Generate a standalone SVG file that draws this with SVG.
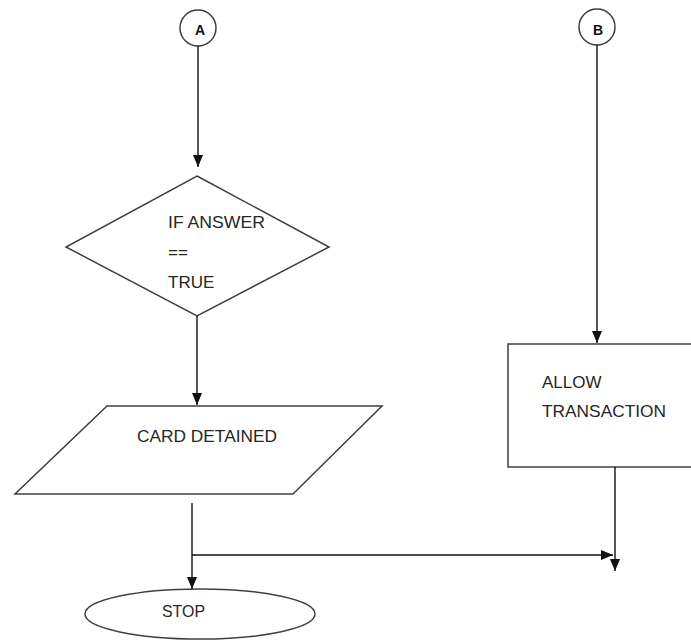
<svg xmlns="http://www.w3.org/2000/svg" width="691" height="641" viewBox="0 0 691 641">
  <style>
    .shape { fill: #ffffff; stroke: #3f3f3f; stroke-width: 1.5; }
    .conn { fill: none; stroke: #111111; stroke-width: 1.4; }
    .label { font-family: "Liberation Sans", Arial, sans-serif; font-size: 17px; fill: #262626; }
    .ref { font-family: "Liberation Sans", Arial, sans-serif; font-size: 14px; font-weight: bold; fill: #111111; text-anchor: middle; }
  </style>
  <defs>
    <marker id="arrow" markerUnits="userSpaceOnUse" markerWidth="12" markerHeight="12" viewBox="0 0 12 10" refX="12" refY="5" orient="auto">
      <path d="M0,0 L12,5 L0,10 Z" fill="#111111"/>
    </marker>
  </defs>
  <rect width="691" height="641" fill="#ffffff"/>

  <!-- off-page connector A -->
  <g id="connector-a">
    <circle class="shape" cx="198" cy="28" r="18"/>
    <text class="ref" x="200" y="35">A</text>
  </g>

  <!-- off-page connector B -->
  <g id="connector-b">
    <circle class="shape" cx="597" cy="27" r="18"/>
    <text class="ref" x="598" y="35">B</text>
  </g>

  <!-- decision -->
  <g id="decision">
    <polygon class="shape" points="197,176 329,247 197,316 66,247"/>
    <text class="label" x="168" y="228" textLength="97" lengthAdjust="spacingAndGlyphs">IF ANSWER</text>
    <text class="label" x="168" y="258">==</text>
    <text class="label" x="168" y="288">TRUE</text>
  </g>

  <!-- output: card detained -->
  <g id="card-detained">
    <polygon class="shape" points="107,406 382,406 293,494 15,494"/>
    <text class="label" x="137" y="442" textLength="140" lengthAdjust="spacingAndGlyphs">CARD DETAINED</text>
  </g>

  <!-- process: allow transaction -->
  <g id="allow-transaction">
    <rect class="shape" x="508" y="344" width="200" height="123"/>
    <text class="label" x="542" y="388">ALLOW</text>
    <text class="label" x="542" y="417" textLength="124" lengthAdjust="spacingAndGlyphs">TRANSACTION</text>
  </g>

  <!-- terminator -->
  <g id="stop">
    <ellipse class="shape" cx="200" cy="614" rx="115" ry="25"/>
    <text class="label" x="162" y="617" textLength="43" lengthAdjust="spacingAndGlyphs">STOP</text>
  </g>

  <!-- connectors -->
  <g id="connectors">
    <line class="conn" x1="198" y1="46" x2="198" y2="167" marker-end="url(#arrow)"/>
    <line class="conn" x1="197" y1="316" x2="197" y2="405" marker-end="url(#arrow)"/>
    <line class="conn" x1="597" y1="45" x2="597" y2="343" marker-end="url(#arrow)"/>
    <line class="conn" x1="615" y1="467" x2="615" y2="571" marker-end="url(#arrow)"/>
    <line class="conn" x1="192" y1="503" x2="192" y2="589" marker-end="url(#arrow)"/>
    <line class="conn" x1="192" y1="555" x2="613" y2="555" marker-end="url(#arrow)"/>
  </g>
</svg>
